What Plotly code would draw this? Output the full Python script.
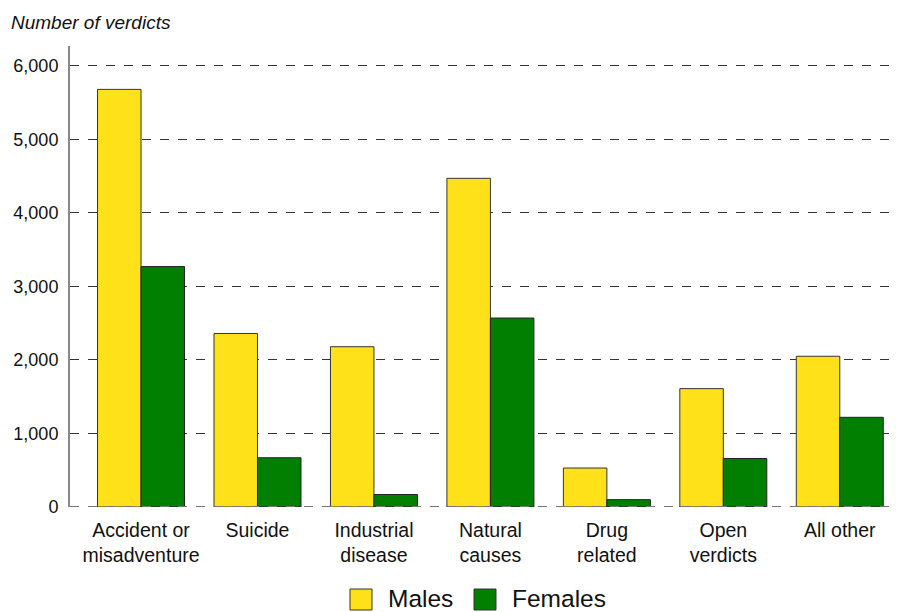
import plotly.graph_objects as go

categories = ["Accident or<br>misadventure", "Suicide", "Industrial<br>disease", "Natural<br>causes",
              "Drug<br>related", "Open<br>verdicts", "All other"]
males = [5680, 2360, 2180, 4470, 530, 1610, 2050]
females = [3270, 670, 170, 2570, 100, 660, 1220]
y_ticks = [0, 1000, 2000, 3000, 4000, 5000, 6000]
y_tick_labels = ["0", "1,000", "2,000", "3,000", "4,000", "5,000", "6,000"]
series_names = ["Males", "Females"]
series_colors = ["#FFE119", "#007F00"]

fig = go.Figure()
fig.add_trace(go.Bar(name=series_names[0], x=categories, y=males,
                     marker=dict(color=series_colors[0], line=dict(color="#333333", width=1))))
fig.add_trace(go.Bar(name=series_names[1], x=categories, y=females,
                     marker=dict(color=series_colors[1], line=dict(color="#222222", width=1))))

# the page body has an 8px margin: work in page pixels and convert
OFF = 8
FW, FH = 898, 612
pl, pr, pt, pb = 70, 898, 46, 507          # plot area in page pixels
L, T = pl - OFF, pt - OFF
R, B = FW - (pr - OFF), FH - (pb - OFF)
W, H = FW - L - R, FH - T - B

def px(x):
    return (x - pl) / W
def py(y):
    return (pb - y) / H

shapes = [dict(type="line", xref="paper", yref="y", x0=0, x1=1, y0=0, y1=0,
               line=dict(color="#777777", width=2, dash="dash"), layer="above")]
annotations = []
legend_items = [(350, 388), (474, 512)]
for (sq_x, tx), name, col in zip(legend_items, series_names, series_colors):
    shapes.append(dict(type="rect", xref="paper", yref="paper",
                       x0=px(sq_x), x1=px(sq_x + 22), y0=py(610), y1=py(589),
                       fillcolor=col, line=dict(color="#333333", width=1)))
    annotations.append(dict(text=name, xref="paper", yref="paper", x=px(tx) - 0.002, y=py(598),
                            xanchor="left", yanchor="middle", showarrow=False,
                            font=dict(size=24.5, color="#111111")))

annotations.append(dict(text="<i>Number of verdicts</i>", xref="paper", yref="paper",
                        x=px(9), y=py(22), xanchor="left", yanchor="middle", showarrow=False,
                        font=dict(size=19, color="#111111")))

fig.update_layout(
    width=FW, height=FH,
    margin=dict(l=L, r=R, t=T, b=B),
    plot_bgcolor="white", paper_bgcolor="white",
    barmode="group", bargap=0.253, bargroupgap=0,
    font=dict(family="Liberation Sans, Arial, sans-serif", size=18, color="#111111"),
    showlegend=False,
    shapes=shapes,
    annotations=annotations,
)
fig.update_xaxes(range=[-0.61, 6.5], showline=False, ticks="", showgrid=False,
                 tickfont=dict(size=19.5), ticklabelstandoff=9, automargin=False)
fig.update_yaxes(range=[0, 6270], tickvals=y_ticks, ticktext=y_tick_labels,
                 showgrid=True, gridcolor="#333333", griddash="dash", gridwidth=1,
                 zeroline=False,
                 showline=True, linecolor="#888888", linewidth=2,
                 ticks="", tickfont=dict(size=18), ticklabelstandoff=6, automargin=False)
fig.write_html("out.html")
